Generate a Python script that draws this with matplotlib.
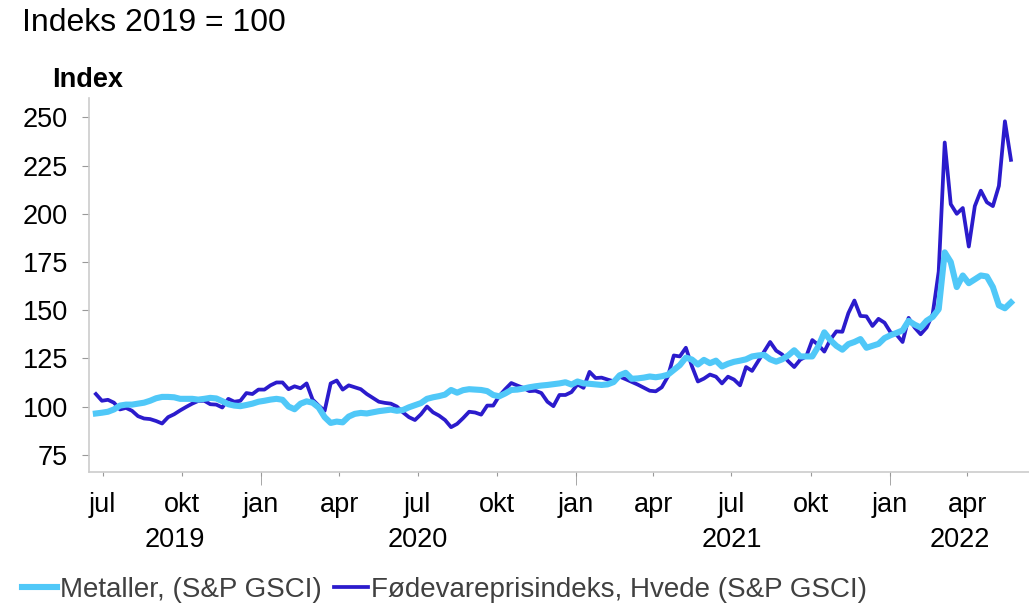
import pandas as pd
import matplotlib.pyplot as plt
import matplotlib.dates as mdates
from matplotlib.ticker import FuncFormatter

plt.rcParams['font.family'] = ['Liberation Sans', 'DejaVu Sans']

# weekly readings, index 2019 = 100
metaller = [96.4, 96.8, 97.3, 98.5, 100.5, 101, 101, 101.5, 102, 103,
            104.3, 105, 105, 104.8, 104, 104, 104, 103.6, 104, 104.5,
            104.2, 102.8, 101.2, 100.5, 100.2, 100.8, 101.5, 102.5, 103, 103.6,
            104, 103.5, 100, 98.6, 101.5, 102.7, 102, 99.5, 94.5, 91.5,
            92.2, 91.8, 94.8, 96.2, 96.7, 96.4, 97, 97.6, 98, 98.4,
            97.8, 98.2, 99.6,
            100.7, 101.8, 104, 104.8, 105.4, 106.2, 108.6,
            107.2, 108.5, 109, 108.8, 108.6, 108, 106, 105.3, 106.8, 108.6,
            108.8, 109.3, 110, 110.5, 110.9, 111.2, 111.6, 112, 112.6, 111.4,
            113, 112, 111.8, 111.5, 111.2, 111.5, 112.7, 116.2, 117.5, 114.4,
            114.6, 115, 115.6, 115.2, 115.7, 116.5, 119, 121.5, 125.4, 124.4,
            121.8, 124.2, 122.5, 123.8,
            120.8, 122.2, 123.2, 123.8, 124.5, 126,
            126.5, 126.8, 124.5, 123.3, 124.5, 126.5, 129.2, 126, 126, 126,
            131.2, 138.5, 134.5, 131.5, 129.5, 132.4, 133.5, 135, 130.5, 131.5,
            132.5, 135.5, 137, 138.2, 139.5, 144.5, 142.5, 141, 144.5, 146.5,
            150.5, 180, 175, 162, 168, 164, 166, 168, 167.5, 162,
            152.5, 151, 154]

hvede = [106.5, 103, 103.5, 102, 98.5, 99.3, 97.8, 95, 93.8, 93.5,
         92.5, 91.2, 94.5, 96, 98, 99.8, 101.5, 102.9, 103, 101.2,
         101, 99.5, 104, 102.5, 103, 107, 106.5, 108.8, 108.8, 111,
         112.5, 112.5, 109, 110.5, 109.5, 112, 103.6, 100.5, 97.8, 112,
         113.5, 108.8, 111, 110, 109, 106.5, 104.5, 102.5, 101.9, 101.5,
         100, 97, 94.5,
         93, 96, 100, 97, 95.3, 93, 89.3,
         91, 94, 97.3, 96.9, 95.8, 100.5, 100.5, 105.5, 109, 112.2,
         110.9, 109.7, 108, 108.2, 107, 102.5, 100.2, 106, 106, 107.5,
         111.5, 109.7, 118, 114.8, 115, 114, 113.1, 115.5, 114.2, 112.8,
         111.4, 109.8, 108.2, 107.9, 110, 115.5, 126.5, 126, 130.5, 121,
         113, 114.5, 116.6, 115.5,
         112, 115.5, 114, 111, 120.5, 118.5,
         123.5, 128.5, 133.5, 129, 127, 123.5, 120.5, 124.3, 126, 134.5,
         132, 128.5, 134.7, 139, 138.8, 148.5, 155, 147, 146.8, 141.8,
         145.5, 143.5, 138.5, 137.3, 133.5, 146, 141, 137.5, 141, 148,
         170, 237, 205, 200, 203, 183, 204, 212, 206, 204,
         214.5, 248, 228]

weeks = pd.date_range('2019-06-23', periods=len(metaller), freq='W')

month_names = {1: 'jan', 4: 'apr', 7: 'jul', 10: 'okt'}
year_labels = ['2019', '2020', '2021', '2022']
year_dates = ['2019-09-23', '2020-07-01', '2021-07-01', '2022-03-24']

fig = plt.figure(figsize=(10.29, 6.06), dpi=100)
ax = fig.add_axes([0.0865, 0.221, 0.9135, 0.617])

ax.plot(weeks, hvede, color='#2B1BCC', lw=2.7, zorder=2,
        label='Fødevareprisindeks, Hvede (S&P GSCI)')
ax.plot(weeks, metaller, color='#50C8F8', lw=4.4, zorder=3,
        label='Metaller, (S&P GSCI)')

ax.set_xlim(pd.Timestamp('2019-06-15'), pd.Timestamp('2022-06-12'))
ax.set_ylim(66, 260)
ax.set_yticks(range(75, 251, 25))

ax.xaxis.set_major_locator(mdates.MonthLocator(bymonth=[1, 4, 7, 10]))
ax.xaxis.set_major_formatter(FuncFormatter(lambda v, p: month_names[mdates.num2date(v).month]))
ax.xaxis.set_minor_locator(mdates.YearLocator())
ax.xaxis.remove_overlapping_locs = False

ax.tick_params(axis='x', which='major', length=3, color='#999999', pad=11, labelsize=19.5)
ax.tick_params(axis='x', which='minor', length=9, color='#999999')
ax.tick_params(axis='y', length=5, color='#999999', pad=10, labelsize=19.5)

for side in ['top', 'right']:
    ax.spines[side].set_visible(False)
for side in ['left', 'bottom']:
    ax.spines[side].set_color('#cccccc')
    ax.spines[side].set_linewidth(1.2)

for lab, d in zip(year_labels, year_dates):
    ax.text(pd.Timestamp(d), -0.182, lab, transform=ax.get_xaxis_transform(),
            ha='center', va='center', fontsize=19.5)

fig.text(22 / 1029, 1 - 23 / 606, 'Indeks 2019 = 100', va='center', fontsize=23)
fig.text(88 / 1029, 1 - 80 / 606, 'Index', ha='center', va='center',
         fontsize=19.5, fontweight='bold')

handles, labels = ax.get_legend_handles_labels()
fig.legend(handles[::-1], labels[::-1], loc='center left',
           bbox_to_anchor=(22 / 1029, 1 - 590 / 606), ncol=2, frameon=False,
           fontsize=20, labelcolor='#404040', handlelength=1.25,
           handletextpad=0.1, columnspacing=0.45, borderpad=0, borderaxespad=0)

fig.savefig('out.png', dpi=100)
